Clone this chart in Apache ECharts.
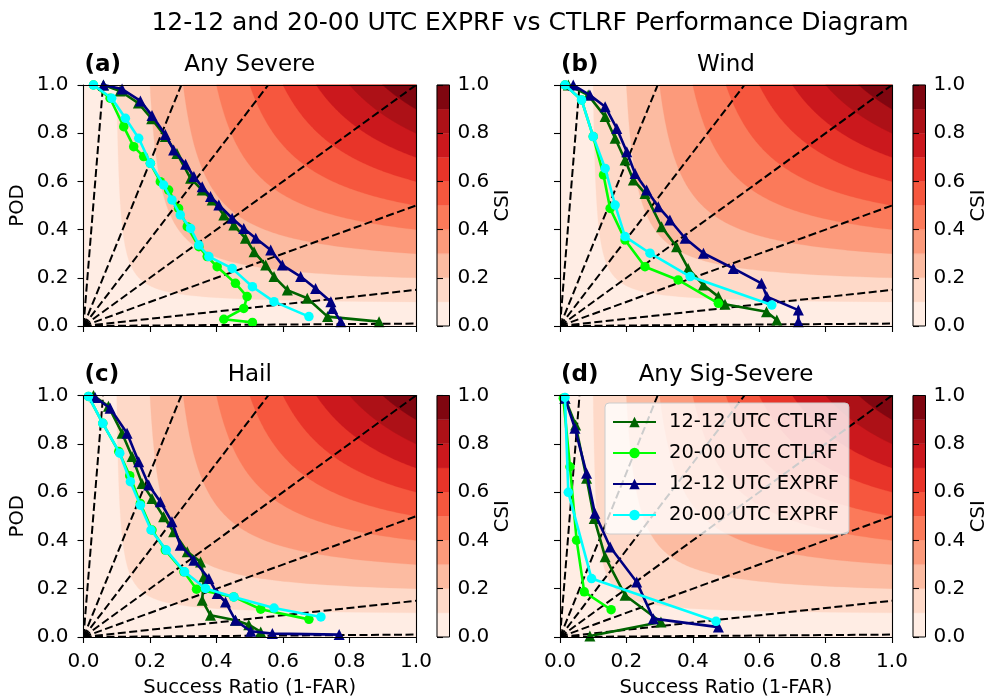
<!DOCTYPE html>
<html>
<head>
<meta charset="utf-8">
<script src="https://cdn.jsdelivr.net/npm/echarts@6/dist/echarts.min.js"></script>
<style>
html, body { margin: 0; padding: 0; background: #ffffff; }
#chart { width: 998px; height: 700px; }
</style>
</head>
<body>
<div id="chart"></div>
<script>
// ---- Performance-diagram points: [success ratio, POD] per threshold ----

// (a) Any Severe
const aCtl1212 = [[0.06,1.0],[0.11,0.975],[0.165,0.925],[0.205,0.86],[0.246,0.786],[0.281,0.716],[0.322,0.613],[0.357,0.564],[0.387,0.523],[0.422,0.461],[0.452,0.419],[0.487,0.364],[0.513,0.308],[0.548,0.253],[0.573,0.205],[0.613,0.149],[0.673,0.115],[0.734,0.039],[0.889,0.018]];
const aCtl2000 = [[0.03,1.0],[0.08,0.945],[0.121,0.827],[0.151,0.744],[0.181,0.703],[0.201,0.675],[0.231,0.599],[0.256,0.564],[0.286,0.488],[0.312,0.412],[0.347,0.329],[0.372,0.288],[0.402,0.246],[0.457,0.177],[0.492,0.122],[0.482,0.073],[0.422,0.028],[0.508,0.015]];
const aExp1212 = [[0.06,1.0],[0.116,0.983],[0.171,0.934],[0.206,0.873],[0.246,0.795],[0.271,0.730],[0.307,0.671],[0.332,0.620],[0.357,0.578],[0.382,0.537],[0.407,0.502],[0.447,0.447],[0.482,0.405],[0.518,0.364],[0.563,0.315],[0.598,0.253],[0.653,0.205],[0.698,0.156],[0.744,0.101],[0.749,0.073],[0.774,0.018]];
const aExp2000 = [[0.03,1.0],[0.085,0.945],[0.126,0.862],[0.166,0.779],[0.201,0.675],[0.241,0.585],[0.266,0.523],[0.291,0.461],[0.322,0.405],[0.347,0.336],[0.377,0.288],[0.447,0.239],[0.508,0.163],[0.573,0.101],[0.678,0.039]];

// (b) Wind
const bCtl1212 = [[0.025,1.0],[0.085,0.958],[0.136,0.869],[0.166,0.779],[0.196,0.689],[0.221,0.606],[0.256,0.55],[0.306,0.412],[0.351,0.329],[0.386,0.239],[0.432,0.17],[0.477,0.122],[0.497,0.09],[0.622,0.059],[0.653,0.025]];
const bCtl2000 = [[0.015,1.0],[0.065,0.938],[0.1,0.786],[0.131,0.627],[0.151,0.488],[0.196,0.357],[0.256,0.246],[0.356,0.191],[0.477,0.094]];
const bExp1212 = [[0.04,1.0],[0.09,0.958],[0.136,0.91],[0.171,0.82],[0.201,0.723],[0.226,0.633],[0.261,0.564],[0.296,0.495],[0.331,0.44],[0.377,0.364],[0.432,0.302],[0.522,0.239],[0.607,0.177],[0.623,0.122],[0.718,0.066],[0.718,0.018]];
const bExp2000 = [[0.015,1.0],[0.065,0.938],[0.1,0.786],[0.136,0.654],[0.166,0.502],[0.196,0.371],[0.271,0.302],[0.392,0.205],[0.638,0.087]];

// (c) Hail
const cCtl1212 = [[0.03,1.0],[0.075,0.955],[0.116,0.844],[0.146,0.747],[0.176,0.636],[0.206,0.574],[0.241,0.498],[0.271,0.436],[0.312,0.353],[0.352,0.311],[0.362,0.249],[0.357,0.152],[0.382,0.09],[0.457,0.069],[0.497,0.051],[0.533,0.021]];
const cCtl2000 = [[0.015,0.996],[0.058,0.885],[0.106,0.768],[0.139,0.668],[0.171,0.553],[0.206,0.443],[0.246,0.36],[0.302,0.27],[0.34,0.198],[0.452,0.166],[0.533,0.115],[0.678,0.073]];
const cExp1212 = [[0.035,0.992],[0.08,0.947],[0.131,0.844],[0.166,0.726],[0.196,0.629],[0.231,0.56],[0.266,0.477],[0.291,0.38],[0.332,0.318],[0.377,0.242],[0.402,0.18],[0.427,0.145],[0.457,0.069],[0.503,0.024],[0.568,0.014],[0.769,0.01]];
const cExp2000 = [[0.015,0.996],[0.058,0.885],[0.109,0.761],[0.141,0.643],[0.171,0.546],[0.203,0.443],[0.249,0.36],[0.304,0.27],[0.367,0.201],[0.452,0.166],[0.573,0.12],[0.714,0.083]];

// (d) Any Sig-Severe
const dCtl1212 = [[0.015,0.989],[0.047,0.878],[0.08,0.657],[0.103,0.491],[0.136,0.332],[0.196,0.173],[0.304,0.062],[0.09,0.004]];
const dCtl2000 = [[0.01,0.989],[0.03,0.705],[0.05,0.401],[0.073,0.187],[0.154,0.113]];
const dExp1212 = [[0.015,0.989],[0.045,0.864],[0.08,0.678],[0.105,0.512],[0.151,0.373],[0.231,0.228],[0.281,0.076],[0.477,0.041]];
const dExp2000 = [[0.015,0.992],[0.025,0.599],[0.095,0.242],[0.47,0.065]];

// Series and panel labels
const seriesNames = ['12-12 UTC CTLRF', '20-00 UTC CTLRF', '12-12 UTC EXPRF', '20-00 UTC EXPRF'];
const panelTags = ['(a)', '(b)', '(c)', '(d)'];
const panelNames = ['Any Severe', 'Wind', 'Hail', 'Any Sig-Severe'];
const panelData = [
  [aCtl1212, aCtl2000, aExp1212, aExp2000],
  [bCtl1212, bCtl2000, bExp1212, bExp2000],
  [cCtl1212, cCtl2000, cExp1212, cExp2000],
  [dCtl1212, dCtl2000, dExp1212, dExp2000]
];

// CSI contour levels and frequency-bias reference lines
const csiLevels = [0, 0.1, 0.2, 0.3, 0.4, 0.5, 0.6, 0.7, 0.8, 0.9, 1.0];
const biasLevels = [0.01, 0.15, 0.5, 1, 1.8, 3.4, 17];

// ---- styling ----
const FONT = '"DejaVu Sans", "Liberation Sans", sans-serif';
const seriesColors = ['#006400', '#00ff00', '#000080', '#00ffff'];
const seriesSymbols = ['triangle', 'circle', 'triangle', 'circle'];
const seriesSymbolSizes = [11, 9.5, 11, 9.5];

const boxes = [
  { left: 83.5, top: 85, width: 332.5, height: 241 },
  { left: 560, top: 85, width: 332, height: 241 },
  { left: 83.5, top: 395.5, width: 332.5, height: 241.5 },
  { left: 560, top: 395.5, width: 332, height: 241.5 }
];
const CBAR_OFFSET = 21;
const CBAR_WIDTH = 12.5;

// matplotlib "Reds" colour ramp
const redsAnchors = ['#fff5f0', '#fee0d2', '#fcbba1', '#fc9272', '#fb6a4a', '#ef3b2c', '#cb181d', '#a50f15', '#67000d'];
function hexToRgb(h) {
  return [parseInt(h.slice(1, 3), 16), parseInt(h.slice(3, 5), 16), parseInt(h.slice(5, 7), 16)];
}
function reds(t) {
  const n = redsAnchors.length - 1;
  const p = Math.max(0, Math.min(1, t)) * n;
  const i = Math.min(Math.floor(p), n - 1);
  const f = p - i;
  const a = hexToRgb(redsAnchors[i]), b = hexToRgb(redsAnchors[i + 1]);
  const c = a.map((v, k) => Math.round(v + (b[k] - v) * f));
  return 'rgb(' + c.join(',') + ')';
}
const lvMin = csiLevels[0], lvMax = csiLevels[csiLevels.length - 1];
function bandColor(lo, hi) {
  return reds(((lo + hi) / 2 - lvMin) / (lvMax - lvMin));
}
const csiBands = [];
for (let i = 0; i < csiLevels.length - 1; i++) csiBands.push([csiLevels[i], csiLevels[i + 1]]);

// Region of the (SR, POD) square where CSI >= c
function csiRegion(c) {
  if (c <= 0) return [[0, 0], [1, 0], [1, 1], [0, 1]];
  const K = 1 / c + 1;
  const t0 = Math.atan(c), t1 = Math.atan(1 / c);
  const pts = [];
  const n = 120;
  for (let j = 0; j <= n; j++) {
    const th = t0 + (t1 - t0) * j / n;
    const m = Math.tan(th);
    const sr = (1 + 1 / m) / K;
    const pod = (m + 1) / K;
    pts.push([Math.min(1, sr), Math.min(1, pod)]);
  }
  pts.push([1, 1]);
  return pts;
}

function contourRender(params, api) {
  const lo = api.value(0), hi = api.value(1);
  const pts = csiRegion(lo).map(p => api.coord(p));
  const col = bandColor(lo, hi);
  return { type: 'polygon', shape: { points: pts }, style: { fill: col, stroke: col, lineWidth: 0.3 } };
}

function biasRender(params, api) {
  const b = api.value(0);
  const end = b >= 1 ? [1 / b, 1] : [1, b];
  const p0 = api.coord([0, 0]);
  const p1 = api.coord(end);
  const children = [{
    type: 'line',
    shape: { x1: p0[0], y1: p0[1], x2: p1[0], y2: p1[1] },
    style: { stroke: '#000', lineWidth: 2, lineDash: [8, 3.5], fill: null }
  }];
  if (params.dataIndex === 0) {
    children.push({ type: 'circle', shape: { cx: p0[0], cy: p0[1], r: 5 }, style: { fill: '#000' } });
  }
  return { type: 'group', children: children };
}

function cbarRender(params, api) {
  const lo = api.value(0), hi = api.value(1);
  const p0 = api.coord([0, hi]);
  const p1 = api.coord([1, lo]);
  const col = bandColor(lo, hi);
  return { type: 'rect', shape: { x: p0[0], y: p0[1], width: p1[0] - p0[0], height: p1[1] - p0[1] }, style: { fill: col, stroke: col, lineWidth: 0.3 } };
}

function cbarOutline(params, api) {
  const p0 = api.coord([0, 1]);
  const p1 = api.coord([1, 0]);
  return { type: 'rect', shape: { x: p0[0], y: p0[1], width: p1[0] - p0[0], height: p1[1] - p0[1] }, style: { fill: null, stroke: '#000', lineWidth: 1 } };
}

const fmt1 = v => v.toFixed(1);
const tickLabel = { color: '#000', fontSize: 20, fontFamily: FONT };
const nameStyle = { color: '#000', fontSize: 19.6, fontFamily: FONT };

const grid = [], xAxis = [], yAxis = [], series = [], graphic = [];

boxes.forEach(b => {
  grid.push({ left: b.left, top: b.top, width: b.width, height: b.height, containLabel: false });
});
boxes.forEach(b => {
  grid.push({ left: b.left + b.width + CBAR_OFFSET, top: b.top, width: CBAR_WIDTH, height: b.height, containLabel: false });
});

const frameLine = { show: true, onZero: false, lineStyle: { color: '#000', width: 1.1 } };
const tickStyle = { show: true, inside: false, length: 6, lineStyle: { color: '#000', width: 1.1 } };

boxes.forEach((b, i) => {
  const bottomRow = i >= 2;
  const leftCol = i % 2 === 0;
  xAxis.push({
    type: 'value', gridIndex: i, position: 'bottom', min: 0, max: 1, interval: 0.2, z: 10,
    axisLine: frameLine, axisTick: tickStyle, splitLine: { show: false },
    axisLabel: Object.assign({ show: bottomRow, margin: 15, formatter: fmt1 }, tickLabel),
    name: bottomRow ? 'Success Ratio (1-FAR)' : '', nameLocation: 'middle', nameGap: 41,
    nameTextStyle: nameStyle
  });
  xAxis.push({
    type: 'value', gridIndex: i, position: 'top', min: 0, max: 1, interval: 0.2, z: 10,
    axisLine: frameLine, axisTick: { show: false }, axisLabel: { show: false }, splitLine: { show: false }
  });
  yAxis.push({
    type: 'value', gridIndex: i, position: 'left', min: 0, max: 1, interval: 0.2, z: 10,
    axisLine: frameLine, axisTick: tickStyle, splitLine: { show: false },
    axisLabel: Object.assign({ show: leftCol, margin: 15, formatter: fmt1 }, tickLabel),
    name: leftCol ? 'POD' : '', nameLocation: 'middle', nameGap: 56,
    nameTextStyle: nameStyle
  });
  yAxis.push({
    type: 'value', gridIndex: i, position: 'right', min: 0, max: 1, interval: 0.2, z: 10,
    axisLine: frameLine, axisTick: { show: false }, axisLabel: { show: false }, splitLine: { show: false }
  });
});

boxes.forEach((b, i) => {
  xAxis.push({ type: 'value', gridIndex: 4 + i, min: 0, max: 1, show: false });
  yAxis.push({
    type: 'value', gridIndex: 4 + i, position: 'right', min: 0, max: 1, interval: 0.2, z: 10,
    axisLine: { show: false }, axisTick: tickStyle, splitLine: { show: false },
    axisLabel: Object.assign({ show: true, margin: 8, formatter: fmt1 }, tickLabel),
    name: 'CSI', nameLocation: 'middle', nameGap: 38, nameRotate: 90,
    nameTextStyle: nameStyle
  });
});

panelData.forEach((sets, i) => {
  const xi = 2 * i, yi = 2 * i;
  series.push({
    type: 'custom', xAxisIndex: xi, yAxisIndex: yi, z: 1, silent: true,
    renderItem: contourRender, data: csiBands
  });
  series.push({
    type: 'custom', xAxisIndex: xi, yAxisIndex: yi, z: 2, silent: true, clip: true,
    renderItem: biasRender, data: biasLevels.map(v => [v])
  });
  sets.forEach((pts, k) => {
    series.push({
      type: 'line', name: seriesNames[k], xAxisIndex: xi, yAxisIndex: yi, z: 3 + k * 0.1,
      data: pts, symbol: seriesSymbols[k], symbolSize: seriesSymbolSizes[k], showAllSymbol: true,
      lineStyle: { color: seriesColors[k], width: 2.6 },
      itemStyle: { color: seriesColors[k], borderWidth: 0 },
      clip: true, silent: true
    });
  });
  series.push({
    type: 'custom', xAxisIndex: 8 + i, yAxisIndex: 8 + i, z: 1, silent: true,
    renderItem: cbarRender, data: csiBands
  });
  series.push({
    type: 'custom', xAxisIndex: 8 + i, yAxisIndex: 8 + i, z: 2, silent: true,
    renderItem: cbarOutline, data: [[0, 0]]
  });
});

// Figure and panel titles
graphic.push({
  type: 'text', x: 530, y: 23,
  style: { text: '12-12 and 20-00 UTC EXPRF vs CTLRF Performance Diagram', font: '25px ' + FONT, fill: '#000',
           align: 'center', verticalAlign: 'middle', textAlign: 'center', textVerticalAlign: 'middle' }
});
boxes.forEach((b, i) => {
  const cy = b.top - 20;
  graphic.push({
    type: 'text', x: b.left + 1, y: cy,
    style: { text: panelTags[i], font: 'bold 23px ' + FONT, fill: '#000',
             align: 'left', verticalAlign: 'middle', textAlign: 'left', textVerticalAlign: 'middle' }
  });
  graphic.push({
    type: 'text', x: b.left + b.width / 2, y: cy,
    style: { text: panelNames[i], font: '23px ' + FONT, fill: '#000',
             align: 'center', verticalAlign: 'middle', textAlign: 'center', textVerticalAlign: 'middle' }
  });
});

const chart = echarts.init(document.getElementById('chart'), null, { renderer: 'canvas' });
chart.setOption({
  animation: false,
  backgroundColor: '#ffffff',
  textStyle: { fontFamily: FONT },
  grid: grid,
  xAxis: xAxis,
  yAxis: yAxis,
  series: series,
  graphic: graphic,
  legend: {
    data: seriesNames, orient: 'vertical', left: 605, top: 403,
    itemWidth: 43, itemHeight: 13, itemGap: 11,
    padding: [9, 10, 9, 7],
    backgroundColor: 'rgba(255,255,255,0.8)', borderColor: '#cccccc', borderWidth: 1, borderRadius: 4,
    textStyle: { color: '#000', fontSize: 19.5, fontFamily: FONT, padding: [0, 0, 0, 8] },
    selectedMode: false, z: 20
  }
});
</script>
</body>
</html>
